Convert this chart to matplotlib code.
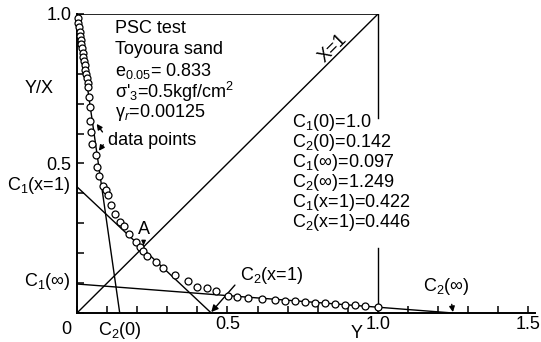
import matplotlib
matplotlib.use("Agg")
import matplotlib.pyplot as plt

plt.rcParams['font.family'] = ['Liberation Sans', 'DejaVu Sans']
plt.rcParams['mathtext.fontset'] = 'custom'
plt.rcParams['mathtext.rm'] = 'Liberation Sans'
plt.rcParams['mathtext.it'] = 'Liberation Sans:italic'
plt.rcParams['mathtext.bf'] = 'Liberation Sans:bold'

# ---- data ----
Y_pts = [0.002, 0.004, 0.007, 0.009, 0.010, 0.012, 0.014, 0.017, 0.019, 0.021,
         0.023, 0.026, 0.028, 0.030, 0.032, 0.036, 0.038, 0.041, 0.044, 0.043,
         0.047, 0.051, 0.063, 0.065, 0.074, 0.087, 0.095, 0.104, 0.112, 0.126,
         0.143, 0.157, 0.174, 0.196, 0.209, 0.220, 0.234, 0.262, 0.287, 0.326,
         0.370, 0.400, 0.431, 0.462, 0.503, 0.530, 0.569, 0.615, 0.658, 0.691,
         0.724, 0.757, 0.791, 0.824, 0.857, 0.890, 0.924, 0.957, 1.000]
YX_pts = [0.986, 0.969, 0.955, 0.941, 0.926, 0.913, 0.899, 0.885, 0.871, 0.857,
          0.843, 0.828, 0.813, 0.799, 0.785, 0.768, 0.755, 0.723, 0.688, 0.643,
          0.605, 0.564, 0.528, 0.489, 0.458, 0.425, 0.411, 0.395, 0.361, 0.331,
          0.305, 0.291, 0.263, 0.238, 0.222, 0.207, 0.191, 0.172, 0.150, 0.127,
          0.107, 0.086, 0.083, 0.075, 0.058, 0.054, 0.051, 0.047, 0.043, 0.041,
          0.040, 0.037, 0.035, 0.032, 0.030, 0.028, 0.026, 0.023, 0.020]

C1_0, C2_0 = 1.0, 0.142
C1_inf, C2_inf = 0.097, 1.249
C1_x1, C2_x1 = 0.422, 0.446

x_ticks = [0.0, 0.1, 0.2, 0.3, 0.4, 0.5, 0.6, 0.7, 0.8, 0.9, 1.0, 1.1, 1.2, 1.3, 1.4, 1.5]
x_labels = ['', '', '', '', '', '0.5', '', '', '', '', '1.0', '', '', '', '', '1.5']
y_ticks = [0.0, 0.1, 0.2, 0.3, 0.4, 0.5, 0.6, 0.7, 0.8, 0.9, 1.0]
y_labels = ['', '', '', '', '', '0.5', '', '', '', '', '1.0']

info_lines = ['PSC test', 'Toyoura sand', 'e$_{0.05}$= 0.833',
              "σ'$_3$=0.5kgf/cm$^2$", 'γ$_r$=0.00125']
param_lines = ['C$_1$(0)=1.0', 'C$_2$(0)=0.142', 'C$_1$(∞)=0.097',
               'C$_2$(∞)=1.249', 'C$_1$(x=1)=0.422', 'C$_2$(x=1)=0.446']

FS = 13

fig = plt.figure(figsize=(5.41, 3.42), dpi=100)
ax = fig.add_axes([0.1423, 0.0848, 0.8457, 0.8743])
ax.set_xlim(0, 1.52)
ax.set_ylim(0, 1.0)
for s in ['top', 'right']:
    ax.spines[s].set_visible(False)
for s in ['left', 'bottom']:
    ax.spines[s].set_linewidth(1.4)

ax.set_xticks(x_ticks)
ax.set_xticklabels(x_labels)
ax.set_yticks(y_ticks)
ax.set_yticklabels(y_labels)
ax.tick_params(direction='in', length=5, width=1.1, labelsize=FS)
ax.tick_params(axis='x', pad=2)
ax.tick_params(axis='y', pad=4)

lw = 1.0
# frame lines of the X=1 box
ax.plot([0, 1], [1, 1], color='black', lw=1.2)
ax.plot([1, 1], [1, 0.652], color='black', lw=lw)
ax.plot([1, 1], [0.217, 0], color='black', lw=lw)
# diagonal X=1
ax.plot([0, 1], [0, 1], color='black', lw=lw)
# fitted lines
ax.plot([0, C2_0], [C1_0, 0], color='black', lw=lw)
ax.plot([0, C2_x1], [C1_x1, 0], color='black', lw=lw)
ax.plot([0, C2_inf], [C1_inf, 0], color='black', lw=lw)

# data points
ax.plot(Y_pts, YX_pts, linestyle='none', marker='o', ms=5, mfc='white',
        mec='black', mew=0.9, zorder=5, clip_on=False)

# text blocks
for i, t in enumerate(info_lines):
    ax.text(0.126, 0.952 - i * 0.0705, t, fontsize=FS, va='center', ha='left')
for i, t in enumerate(param_lines):
    ax.text(0.714, 0.636 - i * 0.067, t, fontsize=FS, va='center', ha='left')

ax.text(0.85, 0.885, 'X=1', fontsize=FS, rotation=45, ha='center', va='center',
        rotation_mode='anchor')

# data points annotation
ax.text(0.103, 0.577, 'data points', fontsize=FS, va='center', ha='left')
ap = dict(arrowstyle='-|>', color='black', lw=1.0, mutation_scale=8)
ax.annotate('', xy=(0.060, 0.640), xytext=(0.090, 0.598), arrowprops=ap)
ax.annotate('', xy=(0.067, 0.535), xytext=(0.093, 0.570), arrowprops=ap)

# A
ax.annotate('A', xy=(0.221, 0.222), xytext=(0.222, 0.280), fontsize=FS,
            ha='center', va='center',
            arrowprops=dict(arrowstyle='-|>', color='black', lw=1.0,
                            mutation_scale=6, shrinkA=2, shrinkB=1))

# C2(x=1)
ax.annotate('C$_2$(x=1)', xy=(C2_x1, 0.003), xytext=(0.54, 0.125), fontsize=FS,
            ha='left', va='center',
            arrowprops=dict(arrowstyle='-|>', color='black', lw=1.0,
                            mutation_scale=10, shrinkA=2, shrinkB=0,
                            relpos=(0.0, 0.3)))
# C2(inf)
ax.annotate('C$_2$(∞)', xy=(C2_inf, 0.003), xytext=(1.226, 0.087), fontsize=FS,
            ha='center', va='center',
            arrowprops=dict(arrowstyle='-|>', color='black', lw=1.0,
                            mutation_scale=8, shrinkA=3, shrinkB=0,
                            relpos=(0.6, 0.0)))

# axis-side labels
ax.text(-0.02, -0.026, '0', fontsize=FS, ha='right', va='top', clip_on=False)
ax.text(C2_0, -0.024, 'C$_2$(0)', fontsize=FS, ha='center', va='top', clip_on=False)
ax.text(-0.022, C1_x1 + 0.005, 'C$_1$(x=1)', fontsize=FS, ha='right', va='center', clip_on=False)
ax.text(-0.022, C1_inf + 0.01, 'C$_1$(∞)', fontsize=FS, ha='right', va='center', clip_on=False)
ax.text(-0.125, 0.752, 'Y/X', fontsize=FS, ha='center', va='center', clip_on=False)
ax.text(0.93, -0.068, 'Y', fontsize=FS, ha='center', va='center', clip_on=False)

fig.savefig('out.png', dpi=100)
